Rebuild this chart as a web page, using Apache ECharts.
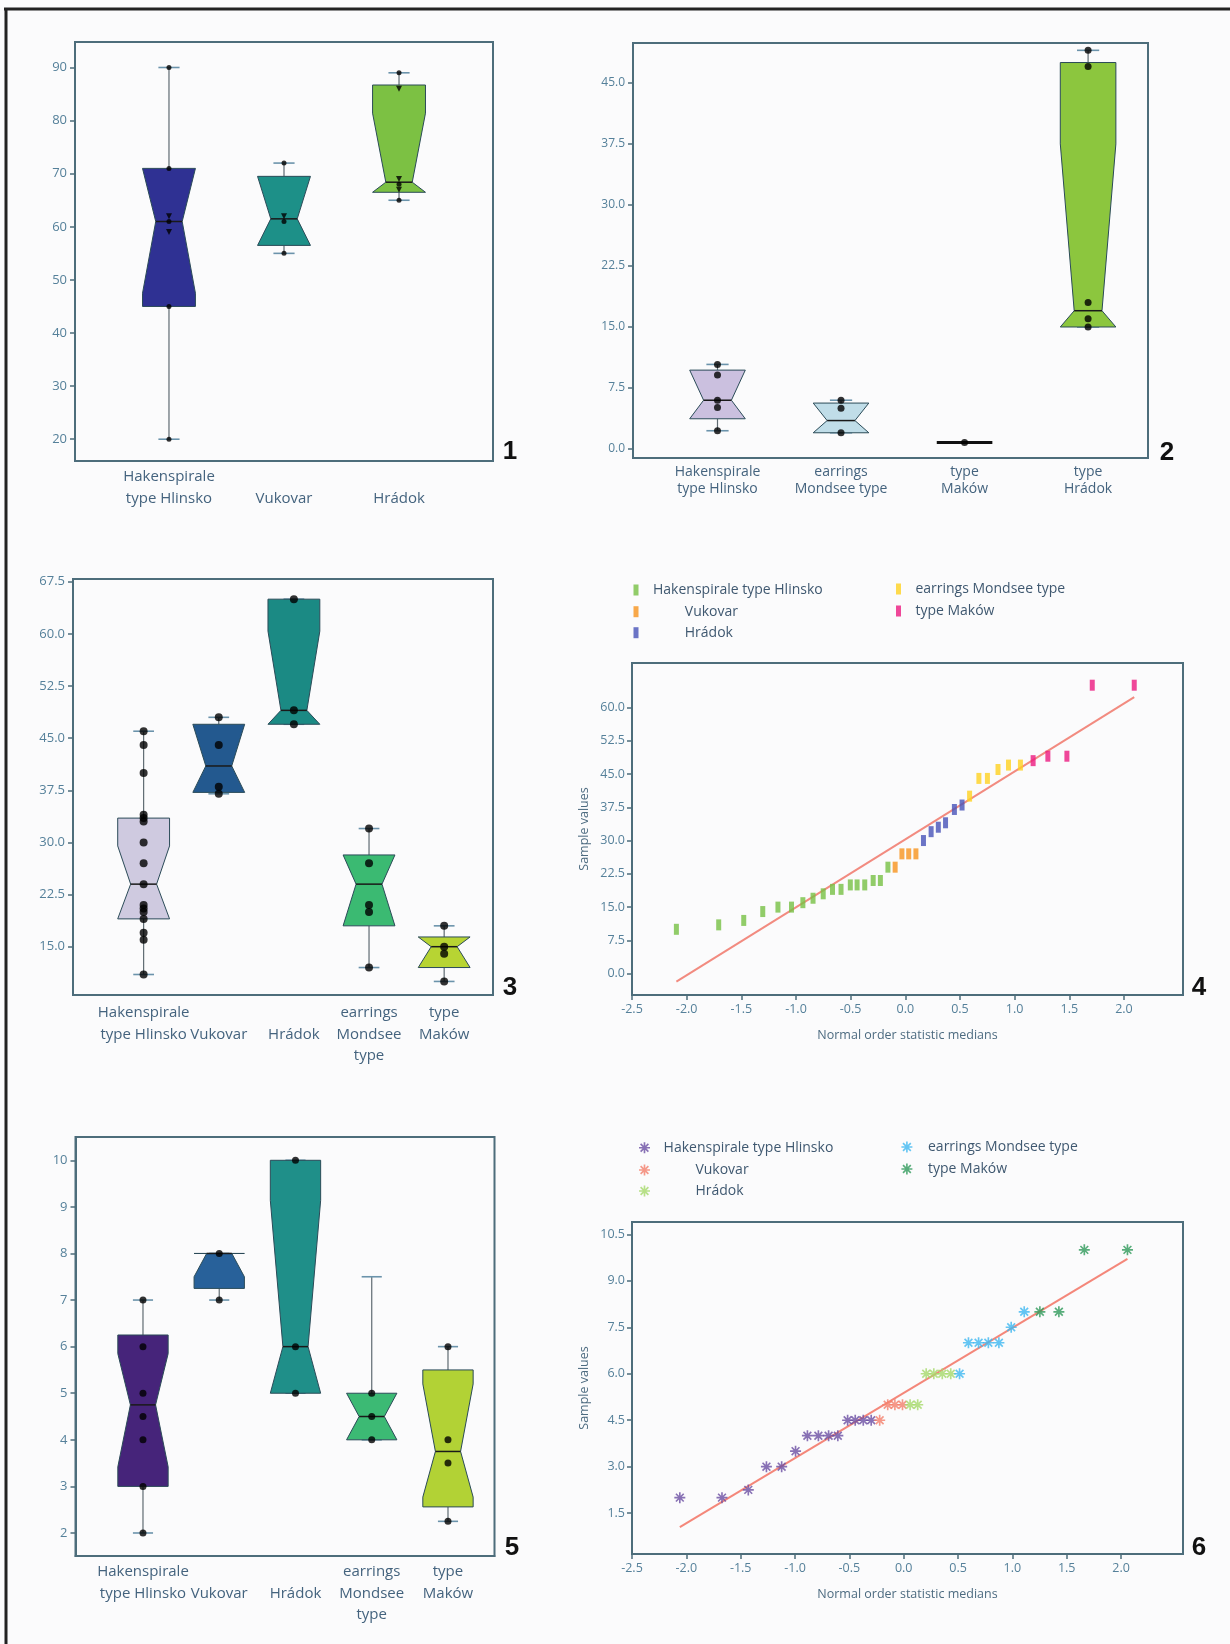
<!DOCTYPE html>
<html><head><meta charset="utf-8">
<script src="https://cdn.jsdelivr.net/npm/echarts@6/dist/echarts.min.js"></script>
<style>html,body{margin:0;padding:0;background:#fbfbfc}#c{width:1230px;height:1644px}</style>
</head><body><div id="c"></div>
<script>
// ---------- Panel 1 ----------
const p1Cats = ['Hakenspirale\ntype Hlinsko', 'Vukovar', 'Hrádok'];
const p1WhiskerLo = [20, 55, 65];
const p1Q1 = [45, 56.5, 66.5];
const p1Median = [61, 61.5, 68.4];
const p1Q3 = [71, 69.5, 86.7];
const p1WhiskerHi = [90, 72, 89];
const p1NotchLo = [47.5, 56.5, 66.5];
const p1NotchHi = [71, 69.5, 81.4];
const p1Dots = [[90, 71, 61, 45, 20], [72, 61, 55], [89, 68, 65]];
const p1Triangles = [[62, 59], [62], [86, 69, 67]];
const p1Ticks = [20, 30, 40, 50, 60, 70, 80, 90];
const p1Colors = ['#2f3193', '#1d9088', '#7cc143'];

// ---------- Panel 2 ----------
const p2Cats = ['Hakenspirale\ntype Hlinsko', 'earrings\nMondsee type', 'type\nMaków', 'type\nHrádok'];
const p2WhiskerLo = [2.25, 2.0, 0.8, 15];
const p2Q1 = [3.72, 2.0, 0.8, 15];
const p2Median = [6.0, 3.5, 0.8, 17];
const p2Q3 = [9.7, 5.65, 0.8, 47.5];
const p2WhiskerHi = [10.4, 6.0, 0.8, 49];
const p2NotchLo = [3.72, 2.0, 0.8, 15];
const p2NotchHi = [9.7, 5.65, 0.8, 37.5];
const p2Dots = [[10.4, 9.1, 6.0, 5.1, 2.25], [6.0, 5.0, 2.0], [0.8], [49, 47, 18, 16, 15]];
const p2Ticks = [0, 7.5, 15, 22.5, 30, 37.5, 45];
const p2Colors = ['#cbc0df', '#c0dde8', '#222222', '#8cc63e'];

// ---------- Panel 3 ----------
const p3Cats = ['Hakenspirale\ntype Hlinsko', 'Vukovar', 'Hrádok', 'earrings\nMondsee\ntype', 'type\nMaków'];
const p3WhiskerLo = [11, 37, 47, 12, 10];
const p3Q1 = [19, 37.2, 47, 18, 12];
const p3Median = [24, 41, 49, 24, 15];
const p3Q3 = [33.5, 47, 65, 28.2, 16.4];
const p3WhiskerHi = [46, 48, 65, 32, 18];
const p3NotchLo = [19, 37.2, 47, 18, 12];
const p3NotchHi = [29.5, 47, 60.4, 28.2, 16.4];
const p3Dots = [[46, 44, 40, 34, 33.5, 33, 30, 27, 24, 21, 20.5, 20, 19, 17, 16, 11], [48, 44, 38, 37], [65, 49, 47], [32, 27, 21, 20, 12], [18, 15, 14, 10]];
const p3Ticks = [15, 22.5, 30, 37.5, 45, 52.5, 60, 67.5];
const p3Colors = ['#cfcae0', '#23598f', '#1b8a84', '#3bba72', '#b7d433'];

// ---------- Panel 5 ----------
const p5Cats = ['Hakenspirale\ntype Hlinsko', 'Vukovar', 'Hrádok', 'earrings\nMondsee\ntype', 'type\nMaków'];
const p5WhiskerLo = [2, 7, 5, 4, 2.25];
const p5Q1 = [3, 7.25, 5, 4, 2.56];
const p5Median = [4.75, 8, 6, 4.5, 3.75];
const p5Q3 = [6.25, 8, 10, 5, 5.5];
const p5WhiskerHi = [7, 8, 10, 7.5, 6];
const p5NotchLo = [3.42, 7.5, 5, 4, 2.77];
const p5NotchHi = [5.85, 8, 9.14, 5, 5.2];
const p5Dots = [[7, 6, 5, 4.5, 4, 3, 2], [8, 7], [10, 6, 5], [5, 4.5, 4], [6, 4, 3.5, 2.25]];
const p5Ticks = [2, 3, 4, 5, 6, 7, 8, 9, 10];
const p5Colors = ['#46247a', '#28619a', '#1f8f89', '#3cba74', '#b2d235'];

// ---------- Panel 4 (Q-Q) ----------
const qqGroups = ['Hakenspirale type Hlinsko', 'Vukovar', 'Hrádok', 'earrings Mondsee type', 'type Maków'];
const q4HakX = [-2.094, -1.707, -1.478, -1.304, -1.165, -1.041, -0.937, -0.844, -0.751, -0.666, -0.588, -0.503, -0.441, -0.371, -0.294, -0.228, -0.159];
const q4HakY = [10, 11, 12, 14, 15, 15, 16, 17, 18, 19, 19, 20, 20, 20, 21, 21, 24];
const q4VukX = [-0.093, -0.031, 0.031, 0.097];
const q4VukY = [24, 27, 27, 27];
const q4HraX = [0.166, 0.236, 0.302, 0.368, 0.449, 0.519];
const q4HraY = [30, 32, 33, 34, 37, 38];
const q4EarX = [0.588, 0.673, 0.751, 0.848, 0.944, 1.053];
const q4EarY = [40, 44, 44, 46, 47, 47];
const q4MakX = [1.169, 1.304, 1.478, 1.71, 2.094];
const q4MakY = [48, 49, 49, 65, 65];
const q4LineX = [-2.094, 2.094];
const q4LineY = [-1.8, 62.3];
const q4YTicks = [0, 7.5, 15, 22.5, 30, 37.5, 45, 52.5, 60];
const qqXTicks = [-2.5, -2, -1.5, -1, -0.5, 0, 0.5, 1, 1.5, 2];
const q4Colors = ['#77c043', '#f7941d', '#4753b8', '#ffd21f', '#ec1a7f'];

// ---------- Panel 6 (Q-Q) ----------
const q6HakX = [-2.06, -1.672, -1.43, -1.263, -1.123, -0.995, -0.886, -0.785, -0.691, -0.606, -0.516, -0.446, -0.372, -0.299];
const q6HakY = [2, 2, 2.25, 3, 3, 3.5, 4, 4, 4, 4, 4.5, 4.5, 4.5, 4.5];
const q6VukX = [-0.221, -0.147, -0.081, -0.011];
const q6VukY = [4.5, 5, 5, 5];
const q6HraX = [0.059, 0.129, 0.207, 0.277, 0.355, 0.433];
const q6HraY = [5, 5, 6, 6, 6, 6];
const q6EarX = [0.514, 0.596, 0.689, 0.779, 0.876, 0.989, 1.109];
const q6EarY = [6, 7, 7, 7, 7, 7.5, 8];
const q6MakX = [1.253, 1.428, 1.662, 2.059];
const q6MakY = [8, 8, 10, 10];
const q6LineX = [-2.06, 2.059];
const q6LineY = [1.05, 9.71];
const q6YTicks = [1.5, 3, 4.5, 6, 7.5, 9, 10.5];
const q6Colors = ['#6b4fa3', '#f4806b', '#a6d96a', '#3fb8f0', '#2f9a5a'];

// ---------- styling ----------
const FONT = "'Open Sans', 'Noto Sans', sans-serif";
const AX = '#4d6d7b';
const TICKC = '#55809a';
const CATC = '#44637e';
const ASTER = 'path://M8.5 0L11.5 0L11.5 20L8.5 20ZM0 8.5L20 8.5L20 11.5L0 11.5ZM3.99 1.87L18.13 16.01L16.01 18.13L1.87 3.99ZM16.01 1.87L18.13 3.99L3.99 18.13L1.87 16.01Z';

const grids = [
  {left: 75, top: 42, width: 418, height: 419},
  {left: 633, top: 43, width: 515, height: 415},
  {left: 73, top: 579, width: 420, height: 416},
  {left: 632, top: 663, width: 551, height: 332},
  {left: 75.5, top: 1137, width: 419, height: 419},
  {left: 632, top: 1222, width: 551, height: 332}
].map(g => Object.assign({show: true, borderColor: AX, borderWidth: 2, backgroundColor: 'transparent'}, g));

const xAxes = [], yAxes = [], series = [];

function zip(xs, ys) { return xs.map((x, i) => [x, ys[i]]); }

function boxPanel(gi, p) {
  xAxes.push({
    gridIndex: gi, type: 'value', min: p.xmin, max: p.xmax,
    splitLine: {show: false}, axisTick: {show: false},
    axisLine: {onZero: false, lineStyle: {color: AX, width: 2}},
    axisLabel: {
      customValues: p.cats.map((c, i) => i), margin: p.labMargin,
      color: CATC, fontFamily: FONT, fontSize: p.catSize, lineHeight: p.catLH,
      formatter: v => { const s = p.cats[Math.round(v)]; return s.indexOf('\n') < 0 ? '\n' + s : s; }
    }
  });
  yAxes.push({
    gridIndex: gi, type: 'value', min: p.ymin, max: p.ymax,
    splitLine: {show: false},
    axisLine: {onZero: false, lineStyle: {color: AX, width: 2}},
    axisTick: {customValues: p.ticks, length: 5, lineStyle: {color: AX, width: 1.5}},
    axisLabel: {customValues: p.ticks, margin: 8, color: TICKC, fontFamily: FONT, fontSize: p.tickSize,
      formatter: v => p.dec ? v.toFixed(1) : String(v)}
  });
  const rows = p.cats.map((c, i) => [i, p.wLo[i], p.q1[i], p.med[i], p.q3[i], p.wHi[i], p.nLo[i], p.nHi[i]]);
  series.push({
    type: 'custom', xAxisIndex: gi, yAxisIndex: gi, data: rows, z: 2,
    renderItem: function (params, api) {
      const i = api.value(0);
      const x = api.coord([i, 0])[0];
      const w = api.size([p.boxW, 0])[0] / 2;
      const nw = w * 0.5;
      const cw = w * 0.4;
      const Y = v => api.coord([i, v])[1];
      const wLo = api.value(1), q1 = api.value(2), med = api.value(3), q3 = api.value(4), wHi = api.value(5), nLo = api.value(6), nHi = api.value(7);
      const ch = [];
      const wl = {stroke: '#5f6b72', lineWidth: 1.2};
      const cl = {stroke: '#6b93ab', lineWidth: 1.6};
      if (wHi > q3) ch.push({type: 'line', shape: {x1: x, y1: Y(q3), x2: x, y2: Y(wHi)}, style: wl});
      if (wLo < q1) ch.push({type: 'line', shape: {x1: x, y1: Y(q1), x2: x, y2: Y(wLo)}, style: wl});
      ch.push({type: 'line', shape: {x1: x - cw, y1: Y(wHi), x2: x + cw, y2: Y(wHi)}, style: cl});
      ch.push({type: 'line', shape: {x1: x - cw, y1: Y(wLo), x2: x + cw, y2: Y(wLo)}, style: cl});
      if (q3 - q1 < 1e-9) {
        ch.push({type: 'line', shape: {x1: x - w, y1: Y(med), x2: x + w, y2: Y(med)}, style: {stroke: '#111', lineWidth: 3}});
        return {type: 'group', children: ch};
      }
      const hwUp = v => { if (nHi <= med) return w; const t = Math.min(1, (v - med) / (nHi - med)); return nw + (w - nw) * t; };
      const hwDn = v => { if (nLo >= med) return w; const t = Math.min(1, (med - v) / (med - nLo)); return nw + (w - nw) * t; };
      const prof = [];
      prof.push([q1, hwDn(q1)]);
      if (nLo > q1 && nLo < med) prof.push([nLo, w]);
      const medW = (nHi > med || nLo < med) ? nw : w;
      prof.push([med, medW]);
      if (nHi > med && nHi < q3) prof.push([nHi, w]);
      prof.push([q3, hwUp(q3)]);
      const pts = prof.map(a => [x - a[1], Y(a[0])]);
      for (let k = prof.length - 1; k >= 0; k--) pts.push([x + prof[k][1], Y(prof[k][0])]);
      ch.push({type: 'polygon', shape: {points: pts}, style: {fill: p.colors[params.dataIndex], stroke: '#2b4b58', lineWidth: 1}});
      ch.push({type: 'line', shape: {x1: x - medW, y1: Y(med), x2: x + medW, y2: Y(med)}, style: {stroke: '#1a1a1a', lineWidth: 1.5}});
      return {type: 'group', children: ch};
    }
  });
  const dots = [];
  p.dots.forEach((arr, i) => arr.forEach(v => dots.push([i, v])));
  series.push({type: 'scatter', xAxisIndex: gi, yAxisIndex: gi, data: dots, symbol: 'circle', symbolSize: p.dotSize, itemStyle: {color: '#000'}, z: 5, silent: true});
  if (p.tris) {
    const tr = [];
    p.tris.forEach((arr, i) => arr.forEach(v => tr.push([i, v])));
    series.push({type: 'scatter', xAxisIndex: gi, yAxisIndex: gi, data: tr, symbol: 'triangle', symbolRotate: 180, symbolSize: 6, itemStyle: {color: '#000'}, z: 5, silent: true});
  }
}

boxPanel(0, {cats: p1Cats, wLo: p1WhiskerLo, q1: p1Q1, med: p1Median, q3: p1Q3, wHi: p1WhiskerHi, nLo: p1NotchLo, nHi: p1NotchHi,
  dots: p1Dots, tris: p1Triangles, ticks: p1Ticks, colors: p1Colors, xmin: -0.817, xmax: 2.817, ymin: 15.9, ymax: 94.8,
  boxW: 0.46, dotSize: 5, dec: false, tickSize: 13, catSize: 15, catLH: 21.6, labMargin: 5});
boxPanel(1, {cats: p2Cats, wLo: p2WhiskerLo, q1: p2Q1, med: p2Median, q3: p2Q3, wHi: p2WhiskerHi, nLo: p2NotchLo, nHi: p2NotchHi,
  dots: p2Dots, ticks: p2Ticks, colors: p2Colors, xmin: -0.684, xmax: 3.485, ymin: -1.1, ymax: 49.9,
  boxW: 0.45, dotSize: 7, dec: true, tickSize: 12, catSize: 14, catLH: 17.6, labMargin: 5});
boxPanel(2, {cats: p3Cats, wLo: p3WhiskerLo, q1: p3Q1, med: p3Median, q3: p3Q3, wHi: p3WhiskerHi, nLo: p3NotchLo, nHi: p3NotchHi,
  dots: p3Dots, ticks: p3Ticks, colors: p3Colors, xmin: -0.94, xmax: 4.65, ymin: 8.05, ymax: 67.9,
  boxW: 0.69, dotSize: 8, dec: true, tickSize: 13, catSize: 15, catLH: 21.6, labMargin: 7});
boxPanel(4, {cats: p5Cats, wLo: p5WhiskerLo, q1: p5Q1, med: p5Median, q3: p5Q3, wHi: p5WhiskerHi, nLo: p5NotchLo, nHi: p5NotchHi,
  dots: p5Dots, ticks: p5Ticks, colors: p5Colors, xmin: -0.885, xmax: 4.61, ymin: 1.506, ymax: 10.5,
  boxW: 0.66, dotSize: 7, dec: false, tickSize: 13, catSize: 15, catLH: 21.6, labMargin: 5});

function qqPanel(gi, p) {
  xAxes[gi] = {
    gridIndex: gi, type: 'value', min: -2.5, max: p.xmax, splitLine: {show: false},
    axisLine: {onZero: false, lineStyle: {color: AX, width: 2}},
    axisTick: {customValues: qqXTicks, length: 5, lineStyle: {color: AX, width: 1.5}},
    axisLabel: {customValues: qqXTicks, margin: 8, color: TICKC, fontFamily: FONT, fontSize: 12.5, formatter: v => v.toFixed(1)},
    name: 'Normal order statistic medians', nameLocation: 'middle', nameGap: 34,
    nameTextStyle: {color: '#4d6b80', fontFamily: FONT, fontSize: 12.5}
  };
  yAxes[gi] = {
    gridIndex: gi, type: 'value', min: p.ymin, max: p.ymax, splitLine: {show: false},
    axisLine: {onZero: false, lineStyle: {color: AX, width: 2}},
    axisTick: {customValues: p.yTicks, length: 5, lineStyle: {color: AX, width: 1.5}},
    axisLabel: {customValues: p.yTicks, margin: 7, color: TICKC, fontFamily: FONT, fontSize: 12.5, formatter: v => v.toFixed(1)},
    name: 'Sample values', nameLocation: 'middle', nameGap: 41,
    nameTextStyle: {color: '#4d6b80', fontFamily: FONT, fontSize: 12.5}
  };
  series.push({type: 'line', xAxisIndex: gi, yAxisIndex: gi, data: zip(p.lineX, p.lineY), symbol: 'none',
    lineStyle: {color: p.lineColor, width: 2}, z: 2, silent: true});
  p.groups.forEach((g, k) => {
    series.push({type: 'scatter', name: qqGroups[k], xAxisIndex: gi, yAxisIndex: gi, data: zip(g[0], g[1]),
      symbol: p.symbol, symbolSize: p.symbolSize, itemStyle: {color: p.colors[k]}, z: 4, silent: true});
  });
}

xAxes.splice(3, 0, null); yAxes.splice(3, 0, null);
xAxes.push(null); yAxes.push(null);
qqPanel(3, {xmax: 2.54, ymin: -4.8, ymax: 70, yTicks: q4YTicks, lineX: q4LineX, lineY: q4LineY, lineColor: '#f28b80',
  groups: [[q4HakX, q4HakY], [q4VukX, q4VukY], [q4HraX, q4HraY], [q4EarX, q4EarY], [q4MakX, q4MakY]],
  symbol: 'rect', symbolSize: [5, 11], colors: q4Colors});
qqPanel(5, {xmax: 2.57, ymin: 0.18, ymax: 10.9, yTicks: q6YTicks, lineX: q6LineX, lineY: q6LineY, lineColor: '#f4877a',
  groups: [[q6HakX, q6HakY], [q6VukX, q6VukY], [q6HraX, q6HraY], [q6EarX, q6EarY], [q6MakX, q6MakY]],
  symbol: ASTER, symbolSize: 11, colors: q6Colors});

function legendItem(k, icon, color, w, h, left, cy, pad) {
  return {show: true, selectedMode: false, left: left, top: cy - 6, padding: 0, itemWidth: w, itemHeight: h,
    data: [{name: qqGroups[k], icon: icon, itemStyle: {color: color}}],
    textStyle: {fontFamily: FONT, fontSize: 14, color: '#3f5870', padding: [0, 0, 0, pad]}};
}
const legends = [
  legendItem(0, 'rect', q4Colors[0], 5, 11, 633.5, 589, 9.5),
  legendItem(1, 'rect', q4Colors[1], 5, 11, 633.5, 610.7, 41.3),
  legendItem(2, 'rect', q4Colors[2], 5, 11, 633.5, 631.7, 41.3),
  legendItem(3, 'rect', q4Colors[3], 5, 11, 896, 588, 9.4),
  legendItem(4, 'rect', q4Colors[4], 5, 11, 896, 610, 9.4),
  legendItem(0, ASTER, q6Colors[0], 11, 11, 639, 1146.7, 8.6),
  legendItem(1, ASTER, q6Colors[1], 11, 11, 639, 1169, 40.4),
  legendItem(2, ASTER, q6Colors[2], 11, 11, 639, 1190, 40.4),
  legendItem(3, ASTER, q6Colors[3], 11, 11, 901.4, 1146, 10.6),
  legendItem(4, ASTER, q6Colors[4], 11, 11, 901.4, 1168, 10.6)
];

const numStyle = {fill: '#111', font: "bold 26px 'Liberation Sans', Arial, sans-serif", textAlign: 'center', textVerticalAlign: 'middle'};
const panelLabels = [['1', 510, 452], ['2', 1167, 453], ['3', 510, 988], ['4', 1199, 988], ['5', 512, 1548], ['6', 1199, 1548]];
const graphic = [
  {type: 'line', shape: {x1: 4, y1: 9, x2: 1230, y2: 9}, style: {stroke: '#222', lineWidth: 3}},
  {type: 'line', shape: {x1: 6, y1: 8, x2: 6, y2: 1644}, style: {stroke: '#222', lineWidth: 3}}
].concat(panelLabels.map(a => ({type: 'text', x: a[1], y: a[2], style: Object.assign({text: a[0]}, numStyle)})));

const chart = echarts.init(document.getElementById('c'), null, {renderer: 'canvas'});
chart.setOption({
  backgroundColor: '#fbfbfc',
  animation: false,
  grid: grids,
  xAxis: xAxes,
  yAxis: yAxes,
  legend: legends,
  series: series,
  graphic: graphic
});
</script></body></html>
